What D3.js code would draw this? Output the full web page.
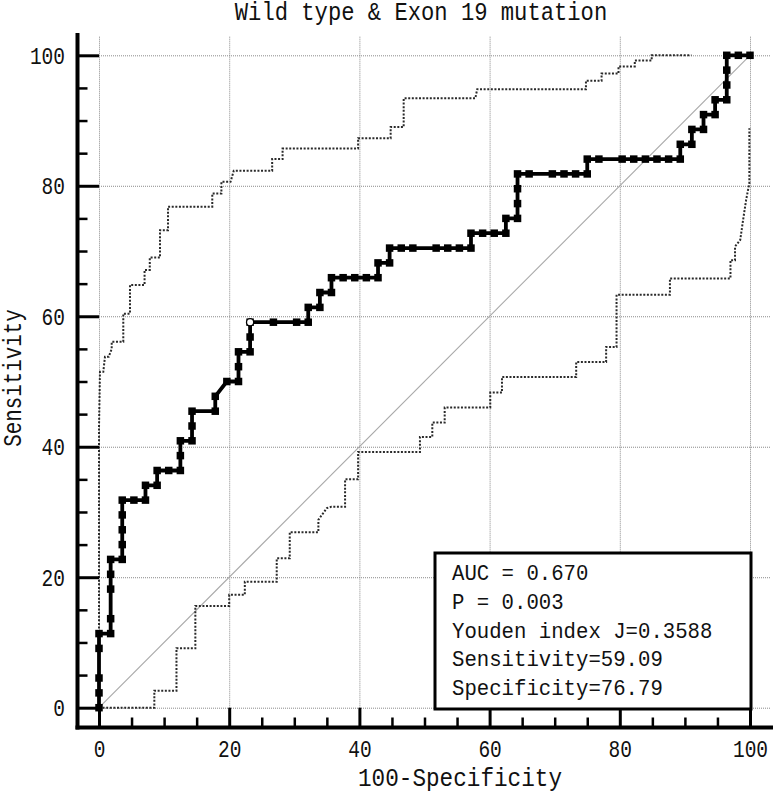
<!DOCTYPE html>
<html><head><meta charset="utf-8">
<script src="https://cdn.jsdelivr.net/npm/d3@7"></script>
<style>html,body{margin:0;padding:0;background:#fff;} svg{display:block}</style>
</head><body>
<svg id="chart" width="777" height="797"></svg>
<script>
// ---------- data ----------
const titleText = "Wild type & Exon 19 mutation";
const xLabel = "100-Specificity";
const yLabel = "Sensitivity";
const majorTicks = [0, 20, 40, 60, 80, 100];
const minorTicks = [5, 10, 15, 25, 30, 35, 45, 50, 55, 65, 70, 75, 85, 90, 95];
const tickLabels = ["0", "20", "40", "60", "80", "100"];

// ROC curve (100-Specificity, Sensitivity), one marker per point
const rocFpr = [0, 0, 0, 0, 0, 1.79, 1.79, 1.79, 1.79, 1.79, 3.57, 3.57, 3.57, 3.57, 3.57, 5.36, 7.14, 7.14, 8.93, 8.93,
  10.71, 12.5, 12.5, 12.5, 14.29, 14.29, 14.29, 17.86, 17.86, 19.64, 21.43, 21.43, 21.43, 23.21, 23.21, 23.21, 26.79, 30.36, 32.14, 32.14,
  33.93, 33.93, 35.71, 35.71, 37.5, 39.29, 41.07, 42.86, 42.86, 44.64, 44.64, 46.43, 48.21, 51.79, 53.57, 55.36, 57.14, 57.14, 58.93, 60.71,
  62.5, 62.5, 64.29, 64.29, 64.29, 64.29, 66.07, 69.64, 71.43, 73.21, 75.0, 75.0, 76.79, 80.36, 82.14, 83.93, 85.71, 87.5, 89.29, 89.29,
  91.07, 91.07, 92.86, 92.86, 94.64, 94.64, 96.43, 96.43, 96.43, 96.43, 98.21, 100];
const rocTpr = [0, 2.27, 4.55, 9.09, 11.36, 11.36, 13.64, 18.18, 20.45, 22.73, 22.73, 25.0, 27.27, 29.55, 31.82, 31.82, 31.82, 34.09, 34.09, 36.36,
  36.36, 36.36, 38.64, 40.91, 40.91, 43.18, 45.45, 45.45, 47.73, 50.0, 50.0, 52.27, 54.55, 54.55, 56.82, 59.09, 59.09, 59.09, 59.09, 61.36,
  61.36, 63.64, 63.64, 65.91, 65.91, 65.91, 65.91, 65.91, 68.18, 68.18, 70.45, 70.45, 70.45, 70.45, 70.45, 70.45, 70.45, 72.73, 72.73, 72.73,
  72.73, 75.0, 75.0, 77.27, 79.55, 81.82, 81.82, 81.82, 81.82, 81.82, 81.82, 84.09, 84.09, 84.09, 84.09, 84.09, 84.09, 84.09, 84.09, 86.36,
  86.36, 88.64, 88.64, 90.91, 90.91, 93.18, 93.18, 95.45, 97.73, 100, 100, 100];

// Youden optimal point
const youdenFpr = [23.21];
const youdenTpr = [59.09];

// Upper confidence bound
const upperFpr = [0, 0, 0.15, 0.66, 0.92, 1.5, 1.95, 1.95, 3.73, 3.73, 4.76, 4.76, 7.0, 7.0, 7.8, 7.8, 9.37, 9.37, 10.6, 10.6,
  17.4, 17.4, 18.8, 18.8, 20.2, 20.7, 26.6, 26.6, 28.2, 28.2, 39.8, 39.8, 44.8, 44.8, 46.8, 46.8, 57.8, 58.1, 74.8, 74.8,
  77.2, 77.2, 79.8, 79.8, 82.3, 82.3, 84.9, 84.9, 91.0];
const upperTpr = [0, 43, 51.5, 51.5, 53.8, 53.8, 55, 56.1, 56.1, 60.4, 60.4, 64.8, 64.8, 67.1, 67.1, 69.0, 69.0, 73.2, 73.2, 76.8,
  76.8, 78.8, 78.8, 80.6, 80.6, 82.3, 82.3, 84.1, 84.1, 85.7, 85.7, 87.3, 87.3, 89.0, 89.0, 93.4, 93.4, 94.8, 94.8, 96.1,
  96.1, 97.2, 97.2, 98.3, 98.3, 99.2, 99.2, 100, 100];

// Lower confidence bound
const lowerFpr = [0, 8.5, 8.5, 11.9, 11.9, 14.8, 14.8, 20.0, 20.0, 22.4, 22.4, 27.3, 27.3, 29.3, 29.3, 33.7, 33.7, 35.0, 35.7, 37.8,
  37.8, 39.8, 39.8, 49.3, 49.3, 51.2, 51.2, 53.1, 53.1, 60.1, 60.1, 61.9, 61.9, 73.3, 73.3, 77.9, 77.9, 79.5, 79.5, 87.7,
  87.7, 97.0, 97.0, 97.7, 97.7, 98.5, 98.9, 99.4, 99.9, 99.9];
const lowerTpr = [0, 0, 2.6, 2.6, 9.1, 9.1, 15.6, 15.6, 17.3, 17.3, 19.3, 19.3, 22.9, 22.9, 26.9, 26.9, 28.8, 30.6, 30.8, 30.8,
  35.0, 35.0, 39.2, 39.2, 41.5, 41.5, 43.7, 43.7, 46.0, 46.0, 48.3, 48.3, 50.7, 50.7, 53.0, 53.0, 55.3, 55.3, 63.3, 63.3,
  65.8, 65.8, 68.6, 68.6, 70.7, 71.7, 74.5, 77.8, 80.4, 88.8];

// Chance diagonal
const diagFpr = [0, 100];
const diagTpr = [0, 100];

const legendLines = ["AUC = 0.670", "P = 0.003", "Youden index J=0.3588", "Sensitivity=59.09", "Specificity=76.79"];

// ---------- drawing ----------
const FONT = "'Liberation Mono', 'DejaVu Sans Mono', monospace";
const svg = d3.select("#chart");
const x = d3.scaleLinear().domain([0, 100]).range([99, 750]);
const y = d3.scaleLinear().domain([0, 100]).range([707.7, 55.3]);
const xMaxPix = 770, yMinPix = 36;
const axisX = 77.5, axisY = 727.5;

svg.append("rect").attr("width", 777).attr("height", 797).attr("fill", "#fff");

// gridlines
const gH = svg.append("g").attr("transform", `translate(${x(0)},0)`)
  .call(d3.axisRight(y).tickValues(majorTicks).tickSize(xMaxPix - x(0)).tickFormat(""));
const gV = svg.append("g").attr("transform", `translate(0,${y(0)})`)
  .call(d3.axisTop(x).tickValues(majorTicks).tickSize(y(0) - yMinPix).tickFormat(""));
[gH, gV].forEach(g => {
  g.select(".domain").remove();
  g.selectAll("line").attr("stroke", "#8a8a8a").attr("stroke-width", 1).attr("stroke-dasharray", "1,1");
});

// diagonal
const line = d3.line().x(d => x(d[0])).y(d => y(d[1]));
svg.append("path").datum(d3.zip(diagFpr, diagTpr)).attr("d", line)
  .attr("fill", "none").attr("stroke", "#a8a8a8").attr("stroke-width", 1.1);

// confidence bounds
[[upperFpr, upperTpr], [lowerFpr, lowerTpr]].forEach(([fx, fy]) => {
  svg.append("path").datum(d3.zip(fx, fy)).attr("d", line)
    .attr("fill", "none").attr("stroke", "#2a2a2a").attr("stroke-width", 2)
    .attr("stroke-dasharray", "2,1.6");
});

// ROC curve
const roc = d3.zip(rocFpr, rocTpr);
svg.append("path").datum(roc).attr("d", line)
  .attr("fill", "none").attr("stroke", "#000").attr("stroke-width", 3.8)
  .attr("stroke-linejoin", "miter");
const ms = 7.5;
svg.append("g").selectAll("rect").data(roc).join("rect")
  .attr("x", d => x(d[0]) - ms / 2).attr("y", d => y(d[1]) - ms / 2)
  .attr("width", ms).attr("height", ms).attr("fill", "#000");
svg.append("g").selectAll("circle").data(d3.zip(youdenFpr, youdenTpr)).join("circle")
  .attr("cx", d => x(d[0])).attr("cy", d => y(d[1])).attr("r", 3.6)
  .attr("fill", "#fff").attr("stroke", "#000").attr("stroke-width", 1.3);

// axes ticks (inward)
function tickGroup(gen, size, vals, sw, tr) {
  const g = svg.append("g").attr("transform", tr)
    .call(gen.tickValues(vals).tickSize(size).tickFormat(""));
  g.select(".domain").remove();
  g.selectAll("line").attr("stroke", "#000").attr("stroke-width", sw);
  return g;
}
tickGroup(d3.axisRight(y), x(0) - axisX, majorTicks, 3, `translate(${axisX},0)`);
tickGroup(d3.axisRight(y), 10, minorTicks, 2.5, `translate(${axisX},0)`);
tickGroup(d3.axisTop(x), axisY - y(0), majorTicks, 3, `translate(0,${axisY})`);
tickGroup(d3.axisTop(x), 10, minorTicks, 2.5, `translate(0,${axisY})`);

// axis lines
svg.append("line").attr("x1", axisX).attr("x2", axisX).attr("y1", 33).attr("y2", axisY + 2)
  .attr("stroke", "#000").attr("stroke-width", 4);
svg.append("line").attr("x1", axisX - 2).attr("x2", 773).attr("y1", axisY).attr("y2", axisY)
  .attr("stroke", "#000").attr("stroke-width", 4);

// tick labels
const CW = 11.7;
const yl = svg.append("g").attr("transform", `translate(${axisX},0)`)
  .call(d3.axisLeft(y).tickValues(majorTicks).tickSize(0).tickPadding(12.5)
    .tickFormat((d, i) => tickLabels[i]));
yl.select(".domain").remove();
yl.selectAll("text").attr("font-family", FONT).attr("font-size", 23).attr("fill", "#111")
  .attr("dy", null).attr("y", 8)
  .attr("textLength", function () { return this.textContent.length * CW; })
  .attr("lengthAdjust", "spacingAndGlyphs");
const xl = svg.append("g").attr("transform", `translate(0,${axisY})`)
  .call(d3.axisBottom(x).tickValues(majorTicks).tickSize(0)
    .tickFormat((d, i) => tickLabels[i]));
xl.select(".domain").remove();
xl.selectAll("text").attr("font-family", FONT).attr("font-size", 23).attr("fill", "#111")
  .attr("dy", null).attr("y", 29.5)
  .attr("textLength", function () { return this.textContent.length * CW; })
  .attr("lengthAdjust", "spacingAndGlyphs");

// titles
svg.append("text").attr("x", 421).attr("y", 20).attr("text-anchor", "middle")
  .attr("font-family", FONT).attr("font-size", 25).attr("fill", "#111")
  .attr("textLength", titleText.length * 13.3).attr("lengthAdjust", "spacingAndGlyphs")
  .text(titleText);
svg.append("text").attr("x", 460).attr("y", 786).attr("text-anchor", "middle")
  .attr("font-family", FONT).attr("font-size", 25).attr("fill", "#111")
  .attr("textLength", xLabel.length * 13.6).attr("lengthAdjust", "spacingAndGlyphs")
  .text(xLabel);
svg.append("text").attr("transform", "translate(21,378) rotate(-90)").attr("text-anchor", "middle")
  .attr("font-family", FONT).attr("font-size", 25).attr("fill", "#111")
  .attr("textLength", yLabel.length * 12.5).attr("lengthAdjust", "spacingAndGlyphs")
  .text(yLabel);

// legend box
const lg = svg.append("g");
lg.append("rect").attr("x", 435).attr("y", 553).attr("width", 316).attr("height", 156)
  .attr("fill", "#fff").attr("stroke", "#000").attr("stroke-width", 3);
lg.selectAll("text").data(legendLines).join("text")
  .attr("x", 452).attr("y", (d, i) => 580 + i * 28.8)
  .attr("font-family", FONT).attr("font-size", 22).attr("fill", "#111")
  .attr("textLength", d => d.length * 12.4).attr("lengthAdjust", "spacingAndGlyphs")
  .text(d => d);
</script>
</body></html>
